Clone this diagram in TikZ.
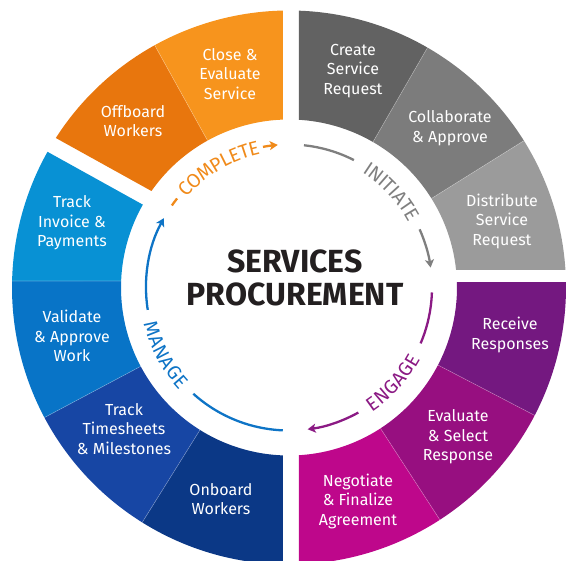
\documentclass[tikz,border=0pt]{standalone}
\usepackage{fontspec}
\setmainfont{Fira Sans}
\usetikzlibrary{arrows.meta,decorations.text}

\definecolor{closeorange}{HTML}{F7941D}
\definecolor{offorange}{HTML}{E8760D}
\definecolor{invoiceblue}{HTML}{0891D4}
\definecolor{validateblue}{HTML}{0874C7}
\definecolor{timeblue}{HTML}{1746A4}
\definecolor{onboardblue}{HTML}{0B3886}
\definecolor{creategray}{HTML}{626262}
\definecolor{collabgray}{HTML}{7C7C7C}
\definecolor{distgray}{HTML}{9B9B9B}
\definecolor{receivepurple}{HTML}{741880}
\definecolor{evalpurple}{HTML}{970F80}
\definecolor{negpink}{HTML}{BE078B}
\definecolor{arcgray}{HTML}{7F7F7F}
\definecolor{arcpurple}{HTML}{8B1A84}
\definecolor{arcblue}{HTML}{0E74C6}
\definecolor{arcorange}{HTML}{F08A1A}
\definecolor{titleblack}{HTML}{231F20}

\newcommand{\segfont}{\fontsize{16}{19.5}\selectfont}
\newcommand{\arcfont}{\fontsize{19.5}{19.5}\selectfont}
\newcommand{\ringseg}[3]{\fill[#3] (#1:277pt) arc[start angle=#1,end angle=#2,radius=277pt] -- (#2:168pt) arc[start angle=#2,end angle=#1,radius=168pt] -- cycle;}

\begin{document}
\begin{tikzpicture}[x=1pt,y=1pt,
    seg/.style={text=white,align=center,font=\segfont},
    sepline/.style={white,opacity=0.3,line width=0.6pt},
    arcline/.style={line width=2.3pt},
    arrowtip/.style={-{Stealth[length=8pt,width=9pt,inset=2pt]}},
    arclabel/.style={decorate,decoration={text along path,text align=center,raise=-6.7pt}}]
        \useasboundingbox (-289,287.5) rectangle (277,-273.5);
        \begin{scope}
        \clip (-289,287.5) rectangle (277,-273.5);
        \begin{scope}
            \clip (10,17.5) rectangle (300,300);
            \foreach \a/\b/\c in {92/60/creategray,60/32/collabgray,32/0/distgray}
            {\ringseg{\a}{\b}{\c}}
        \end{scope}
        \begin{scope}
            \clip (10,4.5) rectangle (300,-300);
            \foreach \a/\b/\c in {5/-27.5/receivepurple,-27.5/-57/evalpurple,-57/-95/negpink}
            {\ringseg{\a}{\b}{\c}}
        \end{scope}
        \begin{scope}
            \clip (-6,300) rectangle (-300,-300);
            \clip[rotate=151] (-400,-1.6) rectangle (400,400);
            \foreach \a/\b/\c in {275/238/onboardblue,238/208/timeblue}
            {\ringseg{\a}{\b}{\c}}
            \fill[validateblue] (208:277pt) arc[start angle=208,end angle=178.66,radius=277pt] -- (177.78:168pt) arc[start angle=177.78,end angle=208,radius=168pt] -- cycle;
            \fill[invoiceblue] (178.66:277pt) arc[start angle=178.66,end angle=140,radius=277pt] -- (140:168pt) arc[start angle=140,end angle=177.78,radius=168pt] -- cycle;
        \end{scope}
        \begin{scope}
            \clip (-6,0) rectangle (-300,300);
            \clip[rotate=151] (-400,-17.7) rectangle (400,-400);
            \foreach \a/\b/\c in {165/119/offorange,119/85/closeorange}
            {\ringseg{\a}{\b}{\c}}
        \end{scope}
        \foreach \a in {60,32,-27.5,-57,238,208,119}
        \draw[sepline] (\a:168pt) -- (\a:277pt);
        \draw[sepline] (177.78:168pt) -- (178.66:277pt);
        \end{scope}

        \node[seg] (close) at (-59,213.5) {Close \&\\Evaluate\\Service};
        \node[seg] (offboard) at (-156,166.5) {Offboard\\Workers};
        \node[seg] (invoice) at (-217,64.5) {Track\\Invoice \&\\Payments};
        \node[seg] (validate) at (-217,-48.5) {Validate\\\& Approve\\Work};
        \node[seg] (timesheets) at (-165,-141.5) {Track\\Timesheets\\\& Milestones};
        \node[seg] (onboard) at (-68,-211.5) {Onboard\\Workers};
        \node[seg] (create) at (64,216.5) {Create\\Service\\Request};
        \node[seg] (collaborate) at (161,159.5) {Collaborate\\\& Approve};
        \node[seg] (distribute) at (213,66.5) {Distribute\\Service\\Request};
        \node[seg] (receive) at (221,-47.5) {Receive\\Responses};
        \node[seg] (evaluate) at (169,-149.5) {Evaluate\\\& Select\\Response};
        \node[seg] (negotiate) at (69,-213.5) {Negotiate\\\& Finalize\\Agreement};

        \node[align=center,text=titleblack,font=\fontsize{32}{33}\selectfont\bfseries] (title) at (6,9.5) {SERVICES\\PROCUREMENT};

        \draw[arcline,arcgray] (84:143pt) arc[start angle=84,end angle=63,radius=143pt];
        \path[arclabel,decoration={text={|\arcfont|INITIATE},text color=arcgray}] (70:143pt) arc[start angle=70,end angle=16,radius=143pt];
        \draw[arcline,arcgray,arrowtip] (24:143pt) arc[start angle=24,end angle=8,radius=143pt];

        \draw[arcline,arcpurple] (-2:143pt) arc[start angle=-2,end angle=-23,radius=143pt];
        \path[arclabel,decoration={text={|\arcfont|ENGAGE},text color=arcpurple}] (-70:143pt) arc[start angle=-70,end angle=-15,radius=143pt];
        \draw[arcline,arcpurple,arrowtip] (-61:143pt) arc[start angle=-61,end angle=-82.5,radius=143pt];

        \draw[arcline,arcblue] (267.5:143pt) arc[start angle=267.5,end angle=228,radius=143pt];
        \path[arclabel,decoration={text={|\arcfont|MANAGE},text color=arcblue}] (180:143pt) arc[start angle=180,end angle=237,radius=143pt];
        \draw[arcline,arcblue,arrowtip] (189:143pt) arc[start angle=189,end angle=151,radius=143pt];

        \draw[arcline,arcorange] (145:143pt) arc[start angle=145,end angle=141.5,radius=143pt];
        \path[arclabel,decoration={text={|\arcfont|COMPLETE},text color=arcorange}] (150:143pt) arc[start angle=150,end angle=91,radius=143pt];
        \draw[arcline,arcorange,arrowtip] (100.5:143pt) arc[start angle=100.5,end angle=94.5,radius=143pt];
    \end{tikzpicture}
\end{document}
